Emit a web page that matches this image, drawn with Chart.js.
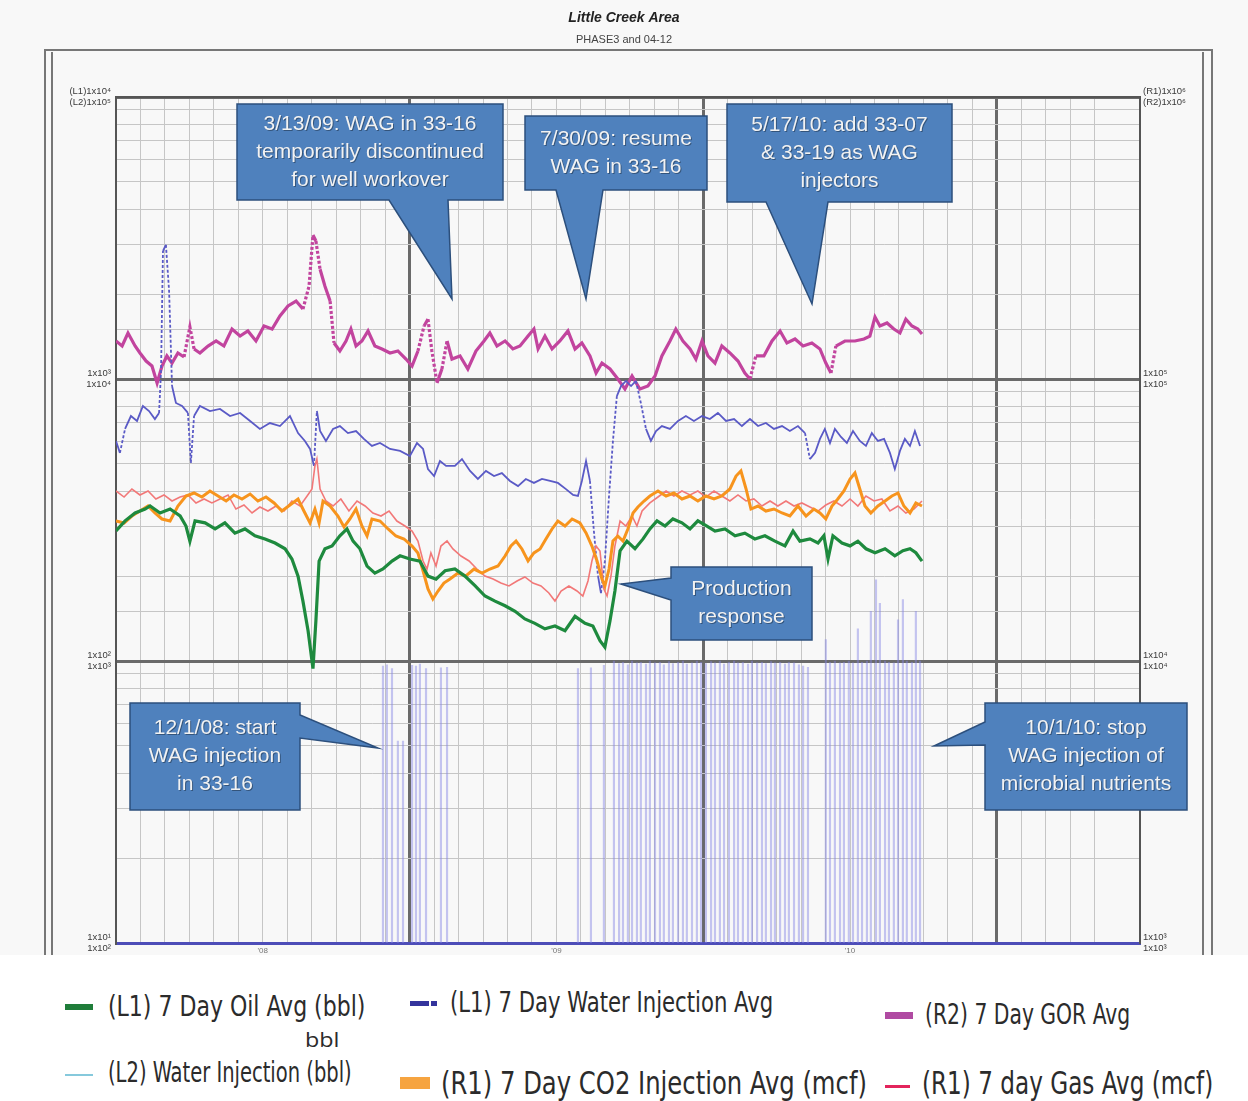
<!DOCTYPE html>
<html>
<head>
<meta charset="utf-8">
<title>Little Creek Area</title>
<script src="https://cdn.jsdelivr.net/npm/chart.js@4.4.1/dist/chart.umd.min.js"></script>
<style>
  html, body { margin: 0; padding: 0; background: #fff; }
  #wrap { position: relative; width: 1248px; height: 1101px; overflow: hidden; background: #fff; }
  #chart { position: absolute; left: 0; top: 0; }
  .lg { position: absolute; height: 40px; line-height: 40px; white-space: nowrap; color: #2b2b2b;
        font-family: "Liberation Sans Narrow", "DejaVu Sans Condensed", "Open Sans", sans-serif; transform-origin: left center; }
  .sw { position: absolute; }
</style>
</head>
<body>
<div id="wrap">
  <canvas id="chart" width="1248" height="955"></canvas>

  <div class="sw" style="left:65px;top:1004px;width:28px;height:6px;background:#1f7d3a"></div>
  <div class="lg" data-w="257" style="left:108px;top:987px;font-size:28px">(L1) 7 Day Oil Avg (bbl)</div>
  <div class="lg" data-w="35" style="left:305px;top:1020px;font-size:20px;font-family:'Open Sans',sans-serif">bbl</div>
  <div class="sw" style="left:410px;top:1001px;width:19px;height:5px;background:#34349c"></div>
  <div class="sw" style="left:431px;top:1001px;width:6px;height:5px;background:#34349c"></div>
  <div class="lg" data-w="323" style="left:450px;top:983px;font-size:28px">(L1) 7 Day Water Injection Avg</div>
  <div class="sw" style="left:885px;top:1012px;width:28px;height:7px;background:#b04aa2"></div>
  <div class="lg" data-w="205" style="left:925px;top:995px;font-size:28px">(R2) 7 Day GOR Avg</div>

  <div class="sw" style="left:65px;top:1074px;width:28px;height:2px;background:#86c9dc"></div>
  <div class="lg" data-w="244" style="left:108px;top:1053px;font-size:28px">(L2) Water Injection (bbl)</div>
  <div class="sw" style="left:400px;top:1077px;width:30px;height:12px;background:#f6a440"></div>
  <div class="lg" data-w="426" style="left:441px;top:1063px;font-size:32px">(R1) 7 Day CO2 Injection Avg (mcf)</div>
  <div class="sw" style="left:885px;top:1085px;width:25px;height:3px;background:#e3245c"></div>
  <div class="lg" data-w="291" style="left:922px;top:1063px;font-size:32px">(R1) 7 day Gas Avg (mcf)</div>
</div>

<script>
// x = months since Jan 1 2008, y = value on the series' own axis
const oilAvg = [[0,289],[0.37,314],[0.78,335],[1.19,346],[1.39,355],[1.80,335],[2.21,346],[2.62,327],[2.86,301],[3.02,266],
  [3.23,314],[3.64,309],[4.05,294],[4.45,309],[4.86,284],[5.27,294],[5.68,278],[6.09,271],[6.50,262],[6.91,250],
  [7.19,230],[7.44,200],[7.64,163],[7.85,128],[8.05,94],[8.17,139],[8.30,226],[8.54,250],[8.83,256],[9.15,278],
  [9.44,294],[9.69,266],[9.97,250],[10.26,217],[10.58,205],[10.91,212],[11.28,226],[11.61,236],[12.01,230],[12.42,226],
  [12.75,200],[13.08,195],[13.45,209],[13.85,212],[14.26,200],[14.67,185],[15.08,170],[15.49,163],[15.90,157],[16.31,150],
  [16.71,141],[17.12,136],[17.53,130],[17.94,133],[18.35,128],[18.76,144],[19.17,136],[19.49,133],[19.78,118],[19.98,112],
  [20.19,139],[20.39,177],[20.60,246],[20.88,266],[21.21,250],[21.54,271],[21.82,294],[22.11,314],[22.44,301],[22.76,319],
  [23.13,309],[23.46,294],[23.78,314],[24.15,301],[24.48,289],[24.89,294],[25.30,278],[25.70,284],[26.11,271],[26.52,278],
  [26.93,266],[27.34,256],[27.67,289],[27.95,266],[28.36,271],[28.69,262],[28.93,278],[29.10,230],[29.30,278],[29.67,262],
  [30.00,256],[30.32,266],[30.65,250],[31.02,242],[31.43,250],[31.83,236],[32.16,246],[32.45,250],[32.69,242],[32.94,226]];

const gorAvg = [[0,136400],[0.25,130900],[0.49,145600],[0.78,130900],[0.98,123700],[1.23,115800],[1.47,111200],[1.68,96800],
  [1.88,111200],[2.08,120700],[2.29,113900],[2.53,123700],[2.78,119700],[3.02,153000],[3.19,127800],[3.43,123700],
  [3.76,130900],[4.09,136400],[4.41,130900],[4.74,150400],[5.07,142000],[5.39,148000],[5.72,136400],[6.05,154200],
  [6.38,150400],[6.70,167300],[7.03,181500],[7.36,189000],[7.64,177000],[7.89,213400],[8.05,324000],[8.17,308600],
  [8.34,245000],[8.54,213400],[8.75,189000],[8.91,134200],[9.15,125700],[9.40,136400],[9.60,150400],[9.81,130900],
  [10.05,136400],[10.30,148000],[10.58,130900],[10.87,127800],[11.20,123700],[11.52,125700],[11.85,117700],[12.10,111200],
  [12.34,125700],[12.59,154200],[12.75,163000],[12.91,125700],[13.12,96800],[13.32,108500],[13.53,136400],[13.73,117700],
  [14.06,120700],[14.38,108500],[14.71,125700],[15.04,136400],[15.28,145600],[15.57,130900],[15.90,136400],[16.22,127800],
  [16.51,130900],[16.84,142000],[17.08,150400],[17.25,127800],[17.53,142000],[17.82,127800],[18.14,136400],[18.47,148000],
  [18.76,127800],[19.04,134200],[19.37,120700],[19.62,105000],[19.86,113900],[20.19,108500],[20.51,100000],[20.80,92160],
  [21.09,102500],[21.41,92160],[21.74,94440],[22.03,102500],[22.31,120700],[22.64,136400],[22.88,150400],[23.17,136400],
  [23.46,127800],[23.70,117700],[23.95,136400],[24.19,120700],[24.48,113900],[24.76,130900],[25.09,123700],[25.42,115800],
  [25.70,105000],[25.91,100000],[26.15,120700],[26.48,120700],[26.81,136400],[27.14,148000],[27.42,134200],[27.75,138600],
  [28.08,130900],[28.44,134200],[28.77,127800],[29.01,113900],[29.22,105000],[29.42,130900],[29.79,136400],[30.20,136400],
  [30.57,138600],[30.81,142000],[31.02,166000],[31.22,154200],[31.51,158000],[31.79,150400],[32.04,145600],[32.28,163000],
  [32.53,154200],[32.77,150400],[32.94,144400]];

const waterAvg = [[0,603],[0.16,547],[0.37,665],[0.61,739],[0.86,710],[1.10,802],[1.35,770],[1.59,721],[1.76,758],[1.84,1067],
  [1.92,2844],[2.04,2990],[2.17,2051],[2.29,944],[2.45,822],[2.70,802],[2.94,758],[3.06,504],[3.19,739],[3.43,802],
  [3.84,770],[4.25,783],[4.66,739],[5.07,758],[5.48,710],[5.88,665],[6.29,698],[6.70,681],[7.11,739],[7.44,643],
  [7.72,603],[7.93,565],[8.09,492],[8.21,770],[8.34,654],[8.58,603],[8.87,665],[9.15,681],[9.48,643],[9.81,654],
  [10.13,613],[10.46,579],[10.79,593],[11.20,565],[11.61,556],[12.01,533],[12.30,593],[12.55,565],[12.75,479],[13.00,453],
  [13.24,512],[13.49,492],[13.85,492],[14.14,520],[14.47,472],[14.79,442],[15.12,472],[15.45,453],[15.77,464],[16.10,435],
  [16.43,417],[16.75,442],[17.08,428],[17.41,442],[17.74,435],[18.06,428],[18.39,407],[18.68,388],[18.88,385],[19.04,435],
  [19.21,512],[19.37,435],[19.53,289],[19.70,200],[19.82,174],[19.98,226],[20.15,385],[20.31,603],[20.47,870],[20.64,944],
  [20.84,984],[21.05,944],[21.25,984],[21.45,822],[21.66,665],[21.86,603],[22.07,654],[22.31,681],[22.64,665],[22.97,710],
  [23.29,739],[23.62,710],[23.95,739],[24.27,721],[24.60,758],[24.93,710],[25.26,721],[25.58,681],[25.91,721],[26.24,681],
  [26.56,698],[26.89,665],[27.22,681],[27.54,654],[27.87,681],[28.16,643],[28.36,520],[28.57,547],[28.77,613],[28.97,665],
  [29.18,593],[29.38,665],[29.63,623],[29.87,593],[30.12,654],[30.40,603],[30.65,579],[30.89,643],[31.14,603],[31.39,613],
  [31.63,547],[31.83,479],[32.04,556],[32.24,613],[32.45,579],[32.65,654],[32.86,579]];

const co2Avg = [[0,31360],[0.33,30860],[0.65,32670],[0.98,34030],[1.31,35450],[1.59,33490],[1.88,31880],[2.21,31360],
  [2.53,35450],[2.86,38470],[3.19,39420],[3.51,38150],[3.84,40070],[4.17,38470],[4.50,36930],[4.82,38800],[5.15,37540],
  [5.48,39100],[5.80,36930],[6.13,38150],[6.46,36340],[6.78,34030],[7.11,35730],[7.44,37540],[7.68,34030],[7.93,30860],
  [8.13,34590],[8.30,30860],[8.46,36930],[8.75,35450],[9.07,32670],[9.32,29870],[9.56,31880],[9.81,34590],[10.05,30110],
  [10.26,27750],[10.46,31880],[10.79,31360],[11.12,29390],[11.44,27750],[11.77,27080],[12.10,25570],[12.34,24160],
  [12.55,20850],[12.75,18000],[12.95,16590],[13.16,17710],[13.40,18900],[13.65,19540],[13.98,20510],[14.30,20020],
  [14.63,21190],[14.96,20510],[15.28,21190],[15.61,21720],[15.90,23570],[16.14,25570],[16.35,26640],[16.59,24960],
  [16.84,22630],[17.08,24160],[17.33,24960],[17.57,27080],[17.82,29390],[18.06,31360],[18.35,30110],[18.64,31880],
  [18.96,30860],[19.21,28440],[19.45,25570],[19.66,22630],[19.86,19540],[19.98,18450],[20.15,21190],[20.31,26640],
  [20.51,27750],[20.72,26640],[20.92,29390],[21.13,33490],[21.33,35160],[21.58,36930],[21.82,38470],[22.15,40070],
  [22.48,38470],[22.80,39420],[23.13,37540],[23.46,38470],[23.78,36930],[24.11,38470],[24.44,37540],[24.76,38470],
  [25.09,40730],[25.34,45290],[25.54,47180],[25.75,40730],[25.95,34590],[26.24,35450],[26.56,34030],[26.89,34590],
  [27.22,33490],[27.54,32670],[27.87,35450],[28.20,32670],[28.52,34590],[28.77,33490],[29.01,31880],[29.26,35450],
  [29.50,37540],[29.75,40070],[30.00,44190],[30.20,46420],[30.40,40730],[30.61,35450],[30.85,33490],[31.14,35450],
  [31.43,36930],[31.71,38470],[31.96,39420],[32.20,35450],[32.45,33490],[32.69,36340],[32.94,35450]];

const gasAvg = [[0,40070],[0.33,38150],[0.65,40730],[0.98,38800],[1.31,40070],[1.63,37540],[1.96,38800],[2.29,36930],
  [2.62,38150],[2.94,38800],[3.27,36340],[3.60,37540],[3.92,36340],[4.25,37540],[4.58,38800],[4.90,34590],[5.23,35730],
  [5.56,33490],[5.88,35160],[6.21,34030],[6.54,35450],[6.87,34030],[7.19,36930],[7.52,35450],[7.81,38470],[8.01,40730],
  [8.13,49150],[8.21,52040],[8.34,40730],[8.58,36930],[8.87,35450],[9.19,37540],[9.52,34030],[9.85,36930],[10.18,35450],
  [10.50,33490],[10.83,32670],[11.16,34030],[11.48,31360],[11.81,30110],[12.10,28910],[12.34,26640],[12.55,22630],
  [12.71,21190],[12.87,24160],[13.08,21720],[13.28,25570],[13.53,26640],[13.77,24960],[14.10,23570],[14.43,22630],
  [14.75,21190],[15.08,20020],[15.41,19540],[15.73,18900],[16.06,18450],[16.39,19220],[16.71,19860],[17.04,18900],
  [17.37,18450],[17.69,17430],[17.94,16320],[18.19,17710],[18.51,18450],[18.84,17710],[19.08,17000],[19.29,19220],
  [19.45,22630],[19.62,25570],[19.78,24550],[19.94,18000],[20.07,17000],[20.23,20020],[20.39,25570],[20.60,31360],
  [20.84,30110],[21.09,32670],[21.29,30110],[21.50,34030],[21.82,36340],[22.15,38150],[22.48,40070],[22.80,38470],
  [23.13,40070],[23.46,38800],[23.78,40070],[24.11,38150],[24.44,40070],[24.76,38470],[25.09,36930],[25.42,38800],
  [25.75,36930],[26.07,37540],[26.40,35450],[26.73,36930],[27.05,35450],[27.38,36930],[27.71,35450],[28.03,36340],
  [28.36,35160],[28.69,34030],[29.01,35730],[29.34,36930],[29.67,35450],[30.00,37540],[30.32,35450],[30.65,38470],
  [30.98,36930],[31.30,37540],[31.63,34030],[31.96,35450],[32.28,33490],[32.61,34590],[32.94,36930]];

// daily water injection (L2), only the injecting days
const waterInj = [[10.91,960],[11.07,970],[11.28,940],[11.52,520],[11.73,520],[12.10,965],[12.26,960],[12.42,975],[12.67,940],
  [13.28,945],[13.53,950],[18.88,940],[19.41,945],[19.94,965],[20.35,1000],[20.56,980],[20.72,990],[20.92,970],[21.09,1000],
  [21.29,985],[21.45,990],[21.66,975],[21.82,1000],[22.03,985],[22.23,990],[22.39,970],[22.60,995],[22.76,980],[22.97,990],
  [23.17,1000],[23.33,975],[23.54,985],[23.74,1000],[23.91,990],[24.11,980],[24.32,995],[24.48,985],[24.68,1000],[24.85,975],
  [25.05,990],[25.26,1000],[25.42,985],[25.62,990],[25.83,975],[25.99,1000],[26.20,985],[26.40,990],[26.56,980],[26.77,995],
  [26.93,985],[27.14,990],[27.34,975],[27.50,990],[27.71,985],[27.91,970],[28.08,960],[28.28,950],[29.01,1190],[29.18,990],
  [29.38,1000],[29.59,985],[29.75,990],[29.95,1000],[30.12,985],[30.32,1300],[30.49,990],[30.69,1000],[30.85,1500],[31.06,1940],
  [31.22,1600],[31.43,1000],[31.59,990],[31.79,985],[31.96,1400],[32.16,1650],[32.32,1000],[32.53,990],[32.69,1500],[32.86,1000]];

const yearTicks = [6, 18, 30];
const yearLabels = ["'08", "'09", "'10"];
const leftDecades = [10, 100, 1000, 10000];
const leftLabels = [['1x10¹', '1x10²'], ['1x10²', '1x10³'], ['1x10³', '1x10⁴'], ['(L1)1x10⁴', '(L2)1x10⁵']];
const rightDecades = [1000, 10000, 100000, 1000000];
const rightLabels = [['1x10³', '1x10³'], ['1x10⁴', '1x10⁴'], ['1x10⁵', '1x10⁵'], ['(R1)1x10⁶', '(R2)1x10⁶']];

const callouts = [
  { lines: ['3/13/09: WAG in 33-16', 'temporarily discontinued', 'for well workover'], box: [237, 104, 503, 200], side: 'bottom', base: [389, 448], tip: [452, 299] },
  { lines: ['7/30/09: resume', 'WAG in 33-16'], box: [525, 116, 707, 190], side: 'bottom', base: [556, 603], tip: [586, 299] },
  { lines: ['5/17/10: add 33-07', '& 33-19 as WAG', 'injectors'], box: [727, 104, 952, 202], side: 'bottom', base: [766, 828], tip: [812, 304] },
  { lines: ['Production', 'response'], box: [671, 567, 812, 640], side: 'left', base: [578, 600], tip: [621, 584] },
  { lines: ['12/1/08: start', 'WAG injection', 'in 33-16'], box: [130, 703, 300, 810], side: 'right', base: [715, 738], tip: [378, 748] },
  { lines: ['10/1/10: stop', 'WAG injection of', 'microbial nutrients'], box: [985, 703, 1187, 810], side: 'left', base: [722, 745], tip: [934, 746] }
];

const isDecade = v => Math.abs(Math.log10(v) - Math.round(Math.log10(v))) < 1e-6;
const toXY = arr => arr.map(([x, y]) => ({ x, y }));
const steep = c => Math.abs(c.p1.y - c.p0.y) > 22 ? [3, 2] : undefined;
// keep the two-line decade labels from pushing the plot area in
const noOverhang = s => { s.paddingTop = 0; s.paddingBottom = 0; };

const framePlugin = {
  id: 'frame',
  beforeDraw(chart) {
    const ctx = chart.ctx;
    ctx.save();
    ctx.fillStyle = '#f8f8f8';
    ctx.fillRect(0, 0, chart.width, chart.height);
    ctx.strokeStyle = '#777';
    ctx.lineWidth = 2;
    ctx.beginPath();
    ctx.moveTo(45, chart.height); ctx.lineTo(45, 50); ctx.lineTo(1212, 50); ctx.lineTo(1212, chart.height);
    ctx.moveTo(52, chart.height); ctx.lineTo(52, 52);
    ctx.moveTo(1203, 52); ctx.lineTo(1203, chart.height);
    ctx.stroke();
    ctx.restore();
  },
  afterDraw(chart) {
    const ctx = chart.ctx, a = chart.chartArea;
    ctx.save();
    ctx.strokeStyle = '#555';
    ctx.lineWidth = 2;
    ctx.beginPath();
    ctx.moveTo(a.left, a.top); ctx.lineTo(a.right, a.top);
    ctx.stroke();
    callouts.forEach(c => {
      const [l, t, r, b] = c.box;
      ctx.beginPath();
      ctx.moveTo(l, t); ctx.lineTo(r, t);
      if (c.side === 'right') { ctx.lineTo(r, c.base[0]); ctx.lineTo(c.tip[0], c.tip[1]); ctx.lineTo(r, c.base[1]); }
      ctx.lineTo(r, b);
      if (c.side === 'bottom') { ctx.lineTo(c.base[1], b); ctx.lineTo(c.tip[0], c.tip[1]); ctx.lineTo(c.base[0], b); }
      ctx.lineTo(l, b);
      if (c.side === 'left') { ctx.lineTo(l, c.base[1]); ctx.lineTo(c.tip[0], c.tip[1]); ctx.lineTo(l, c.base[0]); }
      ctx.closePath();
      ctx.fillStyle = '#4f81bd';
      ctx.fill();
      ctx.strokeStyle = '#2c4f7c';
      ctx.lineWidth = 1.5;
      ctx.stroke();
      ctx.font = '21px Arial, "Liberation Sans", sans-serif';
      ctx.textAlign = 'center';
      ctx.textBaseline = 'middle';
      const cx = (l + r) / 2, cy = (t + b) / 2;
      c.lines.forEach((txt, i) => {
        const y = cy + (i - (c.lines.length - 1) / 2) * 28;
        ctx.fillStyle = 'rgba(0,0,0,0.35)';
        ctx.fillText(txt, cx + 1, y + 1);
        ctx.fillStyle = '#f2f2f2';
        ctx.fillText(txt, cx, y);
      });
    });
    ctx.restore();
  }
};

const gridColor = d => d ? '#6a6a6a' : '#c6c6c6';
const tickFont = { size: 9.5, family: 'Arial, "Liberation Sans", sans-serif' };

new Chart(document.getElementById('chart'), {
  type: 'line',
  data: {
    datasets: [
      { label: '(L1) 7 Day Oil Avg (bbl)', data: toXY(oilAvg), yAxisID: 'yL1', borderColor: '#1e8a3e', borderWidth: 3.2 },
      { label: '(R1) 7 Day CO2 Injection Avg (mcf)', data: toXY(co2Avg), yAxisID: 'yR1', borderColor: '#f7941d', borderWidth: 3 },
      { label: '(R1) 7 day Gas Avg (mcf)', data: toXY(gasAvg), yAxisID: 'yR1', borderColor: '#f27878', borderWidth: 1.6 },
      { label: '(L1) 7 Day Water Injection Avg', data: toXY(waterAvg), yAxisID: 'yL1', borderColor: '#5a5ac6', borderWidth: 1.8, segment: { borderDash: steep } },
      { label: '(R2) 7 Day GOR Avg', data: toXY(gorAvg), yAxisID: 'yR2', borderColor: '#c2449e', borderWidth: 3.2, segment: { borderDash: steep } },
      { type: 'bar', label: '(L2) Water Injection (bbl)', data: toXY(waterInj), yAxisID: 'yL2', backgroundColor: 'rgba(130,130,228,0.45)', barThickness: 1.5 }
    ]
  },
  options: {
    responsive: false,
    animation: false,
    elements: { point: { radius: 0 }, line: { tension: 0 } },
    layout: { padding: 0 },
    plugins: {
      legend: { display: false },
      tooltip: { enabled: false },
      title: { display: true, text: 'Little Creek Area', color: '#222', font: { size: 14, weight: 'bold', style: 'italic', family: 'Arial, "Liberation Sans", sans-serif' }, padding: { top: 10, bottom: 0 } },
      subtitle: { display: true, text: 'PHASE3 and 04-12', color: '#444', font: { size: 11, family: 'Arial, "Liberation Sans", sans-serif' }, padding: { top: 7, bottom: 50 } }
    },
    scales: {
      x: {
        type: 'linear', min: 0, max: 41.85, offset: false,
        afterFit: s => { s.height = 12; },
        ticks: { stepSize: 1, autoSkip: false, maxRotation: 0, padding: 3, color: '#777', font: { size: 8, family: 'Arial' },
          callback: v => { const i = yearTicks.indexOf(v); return i < 0 ? '' : yearLabels[i]; } },
        grid: { offset: false, drawTicks: false,
          color: c => gridColor(c.tick && c.tick.value % 12 === 0),
          lineWidth: c => (c.tick && c.tick.value % 12 === 0 && c.tick.value > 0) ? 3 : 1 },
        border: { color: '#4d4db8', width: 3 }
      },
      yL1: {
        type: 'logarithmic', position: 'left', min: 10, max: 10000,
        afterFit: s => { s.width = 116; noOverhang(s); },
        ticks: { autoSkip: false, padding: 5, color: '#3a3a3a', font: tickFont,
          callback: v => { const i = leftDecades.indexOf(v); return i < 0 ? '' : leftLabels[i]; } },
        grid: { drawTicks: false,
          color: c => gridColor(c.tick && isDecade(c.tick.value)),
          lineWidth: c => (c.tick && isDecade(c.tick.value)) ? 3 : 1 },
        border: { color: '#555', width: 2 }
      },
      yL2: { type: 'logarithmic', display: false, min: 100, max: 100000 },
      yR1: {
        type: 'logarithmic', position: 'right', min: 1000, max: 1000000,
        afterFit: s => { s.width = 108; noOverhang(s); },
        ticks: { autoSkip: false, padding: 3, color: '#3a3a3a', font: tickFont,
          callback: v => { const i = rightDecades.indexOf(v); return i < 0 ? '' : rightLabels[i]; } },
        grid: { drawOnChartArea: false, drawTicks: false },
        border: { color: '#555', width: 2 }
      },
      yR2: { type: 'logarithmic', display: false, min: 1000, max: 1000000 }
    }
  },
  plugins: [framePlugin]
});

// squeeze the condensed legend text to the widths it has in the figure
document.querySelectorAll('.lg[data-w]').forEach(el => {
  const w = el.scrollWidth;
  if (w > 0) el.style.transform = 'scaleX(' + (Number(el.dataset.w) / w) + ')';
});
</script>
</body>
</html>
